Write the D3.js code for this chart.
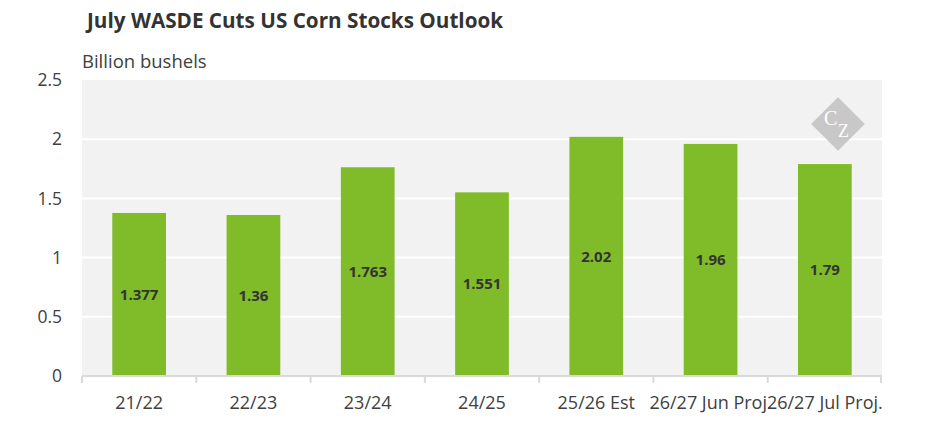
<!DOCTYPE html>
<html>
<head>
<meta charset="utf-8">
<script src="https://cdn.jsdelivr.net/npm/d3@7"></script>
<style>
  body { margin: 0; background: #fff; }
  svg text { font-family: "Open Sans", sans-serif; }
</style>
</head>
<body>
<svg id="chart"></svg>
<script>
const categories = ["21/22", "22/23", "23/24", "24/25", "25/26 Est", "26/27 Jun Proj.", "26/27 Jul Proj."];
const stocks = [1.377, 1.36, 1.763, 1.551, 2.02, 1.96, 1.79];
const yTicks = [0, 0.5, 1, 1.5, 2, 2.5];

const W = 945, H = 443;
const margin = {top: 80, right: 63, bottom: 67, left: 82},
  width = W - margin.left - margin.right,
  height = H - margin.top - margin.bottom;

const root = d3.select("#chart").attr("width", W).attr("height", H);

root.append("text")
    .attr("x", 87).attr("y", 28)
    .style("font-size", "20.7px").style("font-weight", "bold")
    .attr("fill", "#333")
    .text("July WASDE Cuts US Corn Stocks Outlook");

root.append("text")
    .attr("x", 82).attr("y", 68)
    .style("font-size", "18.5px")
    .attr("fill", "#404040")
    .text("Billion bushels");

const svg = root.append("g")
    .attr("transform", `translate(${margin.left},${margin.top})`);

const x = d3.scaleBand()
    .domain(categories)
    .range([0, width])
    .paddingInner(0.53)
    .paddingOuter(0.265);

const y = d3.scaleLinear()
    .domain([0, 2.5])
    .range([height, 0]);

svg.append("rect")
    .attr("width", width).attr("height", height)
    .attr("fill", "#f2f2f2");

// gridlines
svg.append("g")
    .selectAll("line")
    .data(yTicks.filter(d => d > 0 && d < 2.5))
    .join("line")
    .attr("x1", 0).attr("x2", width)
    .attr("y1", d => y(d)).attr("y2", d => y(d))
    .attr("stroke", "#fff").attr("stroke-width", 2);

// logo
const logo = svg.append("g").attr("transform", `translate(${width - 44},${44})`);
logo.append("rect")
    .attr("x", -19).attr("y", -19).attr("width", 38).attr("height", 38)
    .attr("transform", "rotate(45)")
    .attr("fill", "#c8c8c8");
logo.append("text")
    .attr("x", -14).attr("y", 1)
    .style("font-family", "'Liberation Serif', serif")
    .style("font-size", "20px")
    .attr("fill", "#fff")
    .text("C");
logo.append("text")
    .attr("x", 0).attr("y", 13)
    .style("font-family", "'Liberation Serif', serif")
    .style("font-size", "18px")
    .attr("fill", "#fff")
    .text("Z");

// bars
svg.append("g")
    .selectAll("rect")
    .data(categories)
    .join("rect")
    .attr("x", d => x(d))
    .attr("y", (d, i) => y(stocks[i]))
    .attr("width", x.bandwidth())
    .attr("height", (d, i) => height - y(stocks[i]))
    .attr("fill", "#80bb29");

// bar labels
svg.append("g")
    .selectAll("text")
    .data(categories)
    .join("text")
    .attr("x", d => x(d) + x.bandwidth() / 2)
    .attr("y", (d, i) => (y(stocks[i]) + height) / 2)
    .attr("dy", "0.35em")
    .attr("text-anchor", "middle")
    .style("font-size", "15px").style("font-weight", "bold")
    .attr("fill", "#333")
    .text((d, i) => stocks[i]);

// x axis
const xAxis = svg.append("g").attr("transform", `translate(0,${height})`);
xAxis.append("line")
    .attr("x1", 0).attr("x2", width)
    .attr("stroke", "#d9d9d9").attr("stroke-width", 2);
xAxis.selectAll("line.tick")
    .data(d3.range(categories.length + 1))
    .join("line")
    .attr("class", "tick")
    .attr("x1", i => Math.min(i * width / categories.length, width - 1))
    .attr("x2", i => Math.min(i * width / categories.length, width - 1))
    .attr("y1", 0).attr("y2", 7)
    .attr("stroke", "#d9d9d9").attr("stroke-width", 2);
xAxis.selectAll("text")
    .data(categories)
    .join("text")
    .attr("x", d => x(d) + x.bandwidth() / 2)
    .attr("y", 33)
    .attr("text-anchor", "middle")
    .style("font-size", "18px")
    .attr("fill", "#404040")
    .text(d => d);

// y axis labels
svg.append("g")
    .selectAll("text")
    .data(yTicks)
    .join("text")
    .attr("x", -20)
    .attr("y", d => y(d))
    .attr("dy", "0.35em")
    .attr("text-anchor", "end")
    .style("font-size", "17.5px")
    .attr("fill", "#404040")
    .text(d => d);
</script>
</body>
</html>
